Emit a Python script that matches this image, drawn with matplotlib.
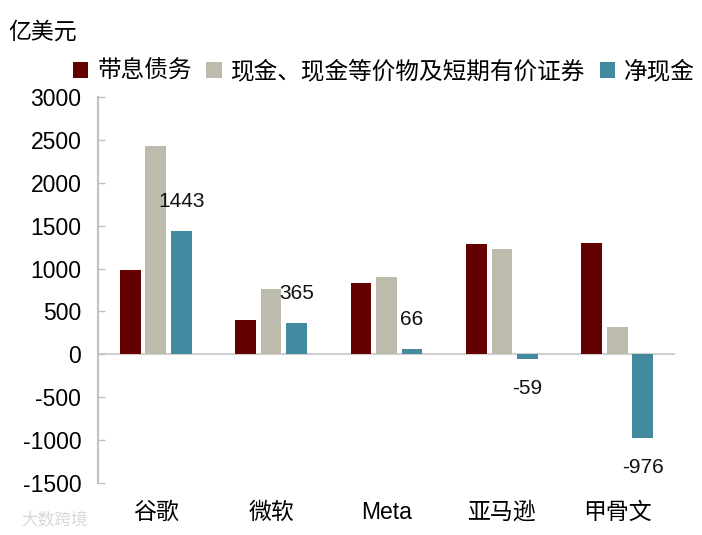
import matplotlib
matplotlib.use("Agg")
import matplotlib.pyplot as plt
import numpy as np
from matplotlib.patches import Patch

plt.rcParams['font.family'] = ['Liberation Sans', 'Noto Sans CJK SC', 'DejaVu Sans']
plt.rcParams['axes.unicode_minus'] = False

categories = ["谷歌", "微软", "Meta", "亚马逊", "甲骨文"]
series_names = ["带息债务", "现金、现金等价物及短期有价证券", "净现金"]
debt = [980, 397, 835, 1282, 1293]
cash = [2423, 762, 901, 1223, 317]
net_cash = [1443, 365, 66, -59, -976]
yticks = [-1500, -1000, -500, 0, 500, 1000, 1500, 2000, 2500, 3000]

colors = ["#640000", "#BDBCAC", "#4389A0"]
axis_gray = "#C0C0C0"

fig = plt.figure(figsize=(7.02, 5.35), dpi=100)
ax = fig.add_axes([0.1396, 0.0972, 0.822, 0.7215])

x = np.arange(len(categories))
w = 0.18
off = 0.221
for i, (vals, c) in enumerate(zip([debt, cash, net_cash], colors)):
    bars = ax.bar(x + (i - 1) * off, vals, width=w, color=c, zorder=2)
    if i == 2:
        for b, v in zip(bars, vals):
            ax.annotate(str(v), xy=(b.get_x() + b.get_width() / 2, v),
                        xytext=(0, 21 if v >= 0 else -21), textcoords="offset points",
                        ha="center", va="center", fontsize=15, color="#111111")

ax.set_xlim(-0.5, len(categories) - 0.5)
ax.set_ylim(-1500, 3000)
ax.set_yticks(yticks)
ax.set_yticklabels([str(t) for t in yticks], fontsize=16.5)
ax.axhline(0, color="#D0D0D0", lw=1.5, zorder=1)

ax.set_xticks(x)
ax.set_xticklabels(categories, fontsize=16.5)
ax.tick_params(axis="x", length=0, pad=13)
ax.tick_params(axis="y", direction="in", length=5, width=1, color=axis_gray, pad=12)

for s in ["top", "right", "bottom"]:
    ax.spines[s].set_visible(False)
ax.spines["left"].set_color(axis_gray)
ax.spines["left"].set_linewidth(1.5)

handles = [Patch(facecolor=c, edgecolor="none") for c in colors]
fig.legend(handles, series_names, loc="center", bbox_to_anchor=(0.547, 0.866),
           ncol=3, frameon=False, fontsize=17, handlelength=0.65, handleheight=0.65,
           handletextpad=0.4, columnspacing=0.6, borderaxespad=0)

fig.text(0.012, 0.94, "亿美元", fontsize=16.5, ha="left", va="center")
fig.text(0.03, 0.028, "大数跨境", fontsize=12, color="#D8D8D8", ha="left", va="center")

fig.savefig("out.png", dpi=100)
